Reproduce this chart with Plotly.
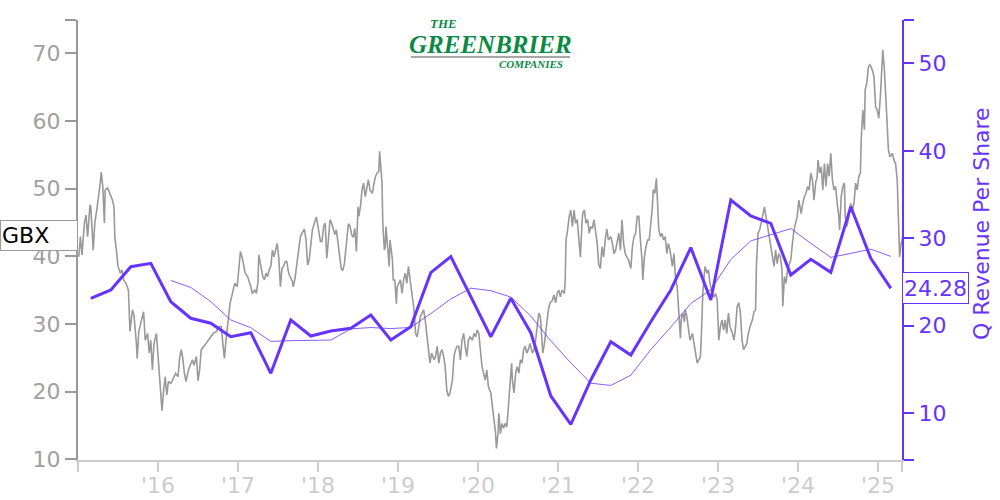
import plotly.graph_objects as go

# ---- GBX share price, decimal years ----
price_x = [
2015.01,2015.03,2015.05,2015.08,2015.10,2015.12,2015.15,2015.16,2015.19,2015.21,2015.24,2015.26,2015.28,2015.29,2015.31,2015.33,2015.34,2015.37,2015.40,2015.43,
2015.45,2015.46,2015.48,2015.50,2015.53,2015.55,2015.57,2015.60,2015.63,2015.64,2015.65,2015.68,2015.70,2015.73,2015.74,2015.76,2015.79,2015.82,2015.84,2015.87,
2015.89,2015.91,2015.93,2015.95,2015.98,2016.00,2016.03,2016.05,2016.07,2016.09,2016.11,2016.13,2016.16,2016.19,2016.22,2016.25,2016.27,2016.29,2016.31,2016.33,
2016.35,2016.38,2016.40,2016.43,2016.45,2016.48,2016.50,2016.52,2016.54,2016.57,2016.60,2016.63,2016.66,2016.69,2016.73,2016.76,2016.79,2016.82,2016.83,2016.85,
2016.88,2016.90,2016.92,2016.94,2016.96,2016.99,2017.01,2017.03,2017.05,2017.07,2017.09,2017.12,2017.14,2017.16,2017.18,2017.21,2017.23,2017.25,2017.26,2017.28,
2017.31,2017.33,2017.35,2017.37,2017.39,2017.41,2017.43,2017.45,2017.47,2017.49,2017.51,2017.53,2017.55,2017.57,2017.59,2017.61,2017.63,2017.65,2017.68,2017.69,
2017.71,2017.73,2017.76,2017.78,2017.80,2017.83,2017.85,2017.87,2017.89,2017.91,2017.93,2017.96,2017.98,2018.00,2018.03,2018.05,2018.07,2018.09,2018.11,2018.13,
2018.15,2018.17,2018.19,2018.21,2018.23,2018.25,2018.27,2018.29,2018.31,2018.33,2018.36,2018.38,2018.40,2018.42,2018.44,2018.46,2018.48,2018.50,2018.51,2018.53,
2018.55,2018.57,2018.59,2018.61,2018.63,2018.65,2018.68,2018.70,2018.72,2018.74,2018.76,2018.77,2018.79,2018.80,2018.81,2018.83,2018.84,2018.85,2018.87,2018.89,
2018.90,2018.93,2018.94,2018.96,2018.98,2018.99,2019.01,2019.03,2019.05,2019.07,2019.09,2019.11,2019.13,2019.15,2019.18,2019.20,2019.22,2019.24,2019.26,2019.28,
2019.30,2019.32,2019.34,2019.36,2019.38,2019.40,2019.42,2019.45,2019.47,2019.49,2019.51,2019.53,2019.55,2019.57,2019.59,2019.61,2019.63,2019.65,2019.68,2019.70,
2019.72,2019.74,2019.76,2019.78,2019.80,2019.82,2019.84,2019.86,2019.88,2019.90,2019.93,2019.95,2019.97,2019.99,2020.01,2020.03,2020.05,2020.07,2020.09,2020.11,
2020.13,2020.16,2020.18,2020.20,2020.22,2020.23,2020.25,2020.26,2020.28,2020.30,2020.32,2020.34,2020.36,2020.38,2020.40,2020.42,2020.43,2020.45,2020.47,2020.49,
2020.51,2020.53,2020.55,2020.57,2020.59,2020.61,2020.63,2020.65,2020.68,2020.70,2020.72,2020.74,2020.76,2020.78,2020.80,2020.81,2020.83,2020.85,2020.87,2020.88,
2020.90,2020.93,2020.95,2020.97,2020.99,2021.01,2021.03,2021.05,2021.08,2021.09,2021.10,2021.12,2021.14,2021.16,2021.18,2021.20,2021.22,2021.24,2021.26,2021.28,
2021.30,2021.31,2021.33,2021.35,2021.37,2021.39,2021.41,2021.43,2021.45,2021.47,2021.49,2021.51,2021.53,2021.55,2021.57,2021.59,2021.61,2021.63,2021.66,2021.68,
2021.70,2021.72,2021.74,2021.76,2021.78,2021.80,2021.82,2021.84,2021.86,2021.88,2021.91,2021.93,2021.95,2021.97,2021.99,2022.01,2022.03,2022.05,2022.06,2022.08,
2022.10,2022.12,2022.14,2022.16,2022.18,2022.19,2022.21,2022.23,2022.24,2022.26,2022.28,2022.30,2022.32,2022.34,2022.36,2022.38,2022.40,2022.43,2022.45,2022.47,
2022.49,2022.51,2022.53,2022.54,2022.56,2022.58,2022.59,2022.61,2022.63,2022.65,2022.68,2022.70,2022.72,2022.74,2022.76,2022.78,2022.79,2022.81,2022.83,2022.84,
2022.86,2022.88,2022.90,2022.93,2022.95,2022.97,2022.99,2023.01,2023.03,2023.05,2023.07,2023.09,2023.11,2023.13,2023.15,2023.18,2023.20,2023.22,2023.24,2023.26,
2023.28,2023.30,2023.32,2023.34,2023.36,2023.38,2023.40,2023.43,2023.45,2023.47,2023.48,2023.50,2023.52,2023.54,2023.56,2023.58,2023.60,2023.62,2023.64,2023.66,
2023.68,2023.70,2023.72,2023.74,2023.76,2023.78,2023.80,2023.81,2023.83,2023.85,2023.87,2023.89,2023.91,2023.93,2023.95,2023.97,2023.99,2024.01,2024.03,2024.04,
2024.06,2024.08,2024.10,2024.12,2024.14,2024.16,2024.18,2024.20,2024.22,2024.24,2024.25,2024.27,2024.29,2024.31,2024.33,2024.35,2024.37,2024.39,2024.41,2024.43,
2024.45,2024.47,2024.49,2024.51,2024.52,2024.54,2024.56,2024.58,2024.59,2024.61,2024.63,2024.66,2024.68,2024.70,2024.72,2024.74,2024.76,2024.78,2024.79,2024.81,
2024.83,2024.84,2024.86,2024.88,2024.90,2024.93,2024.95,2024.97,2024.99,2025.01,2025.03,2025.05,2025.06,2025.08,2025.10,2025.11,2025.13,2025.15,2025.18,2025.20,
2025.22,2025.24,2025.26,2025.27,2025.29,2025.31]
price_y = [
39.9,42.9,40.2,44.9,46.1,42.9,47.6,47.3,40.9,44.9,47.3,48.8,51.0,52.4,50.3,44.9,49.8,50.1,49.1,48.3,
47.3,42.9,40.9,38.5,37.5,38.0,36.5,36.0,35.0,31.1,28.9,32.1,31.3,27.1,24.9,28.9,30.6,31.8,27.6,28.6,
25.7,27.6,23.2,27.1,28.6,25.2,19.8,17.2,20.2,22.2,19.5,21.5,21.2,22.0,22.7,22.2,24.9,26.2,24.9,22.7,
21.5,23.2,23.7,24.7,23.9,25.2,21.6,23.2,26.2,26.6,27.1,27.6,28.1,28.6,28.9,29.6,29.6,26.7,24.9,27.6,
31.1,33.0,34.0,35.0,36.0,35.5,38.2,40.7,39.9,38.5,37.5,37.0,36.3,35.5,34.5,35.0,34.5,36.3,40.2,38.7,
37.0,36.5,37.5,37.0,38.0,38.5,40.9,39.9,40.9,41.9,39.7,35.5,38.2,38.5,39.2,39.2,37.7,37.0,36.3,35.5,
36.5,38.5,40.9,42.9,43.4,44.0,42.4,38.7,39.5,41.4,43.9,45.1,45.8,44.4,42.2,42.2,44.4,44.9,39.7,42.4,
45.4,44.9,43.9,43.2,43.9,41.7,39.7,38.2,37.9,38.9,42.4,44.8,44.5,43.2,42.8,44.1,40.7,47.3,45.9,47.3,
49.8,50.8,48.8,50.3,51.3,49.8,49.3,50.8,51.8,52.3,52.5,55.5,51.8,50.8,44.9,40.9,41.4,44.4,41.4,38.5,
42.4,39.5,36.5,36.5,33.0,35.5,36.0,36.5,34.5,36.5,37.5,36.0,38.5,36.5,34.0,32.1,28.6,28.1,29.6,31.1,
31.6,32.1,30.6,28.6,26.6,24.2,25.7,24.7,25.2,26.7,24.2,25.7,26.2,25.2,23.7,20.2,19.3,19.8,21.7,25.2,
26.2,26.7,26.7,24.7,27.6,28.6,26.7,25.2,27.6,28.1,27.6,28.6,28.1,29.1,28.6,25.7,23.7,22.7,21.7,23.2,
20.7,19.8,17.8,15.8,13.8,11.6,13.8,16.8,13.8,15.3,14.6,15.3,14.8,17.8,20.7,24.2,21.7,19.8,22.7,23.7,
22.7,24.7,24.2,26.2,26.7,25.7,26.2,27.1,25.7,26.2,27.6,29.6,31.6,31.1,28.1,25.7,27.1,29.6,31.1,32.1,
33.1,33.5,34.3,33.1,34.5,35.0,34.0,35.0,34.5,36.5,42.4,43.9,45.9,46.8,44.4,46.8,44.9,45.4,42.4,39.9,
44.9,46.4,46.8,44.9,45.4,43.4,44.4,44.1,45.4,43.9,41.9,38.7,38.2,41.4,39.9,42.4,44.0,42.4,42.9,41.9,
40.4,40.9,42.4,43.4,40.9,45.4,41.9,40.4,39.9,39.5,38.2,41.4,42.9,43.4,45.9,45.9,42.4,39.5,36.5,39.9,
41.4,42.4,42.4,44.9,47.3,49.8,49.3,51.5,49.3,43.9,42.9,43.4,42.4,42.9,40.4,41.9,40.9,38.5,40.4,36.5,
35.5,31.6,27.9,30.6,31.6,30.3,32.1,31.1,29.6,27.6,28.6,27.1,25.7,24.2,24.7,25.2,27.6,34.5,37.5,38.5,
37.5,38.0,36.0,34.5,34.0,34.5,33.5,27.6,29.6,30.6,29.1,30.6,28.6,31.6,29.6,28.6,27.6,29.6,32.6,33.1,
31.6,27.6,26.2,26.7,27.1,28.6,29.6,30.6,31.8,32.1,38.5,43.4,43.9,44.9,45.9,47.3,45.9,44.4,42.9,40.9,
39.5,38.5,40.9,38.9,40.4,39.9,38.0,32.6,37.0,36.0,38.0,38.9,39.5,41.9,43.9,44.9,45.9,48.3,46.8,46.3,
47.8,48.8,49.3,50.3,49.8,52.3,51.3,48.3,50.8,51.8,54.2,52.3,53.2,49.8,53.7,50.3,53.7,51.8,55.2,51.3,
49.8,50.3,47.8,45.9,43.9,48.8,50.3,50.8,45.9,44.4,45.4,47.8,46.8,47.8,50.8,49.8,51.8,52.3,57.2,61.6,
58.7,64.6,65.6,68.0,68.3,67.5,66.5,62.1,61.6,60.4,63.6,69.5,70.5,67.5,63.6,60.6,55.7,54.7,55.2,54.2,
53.7,51.3,43.9,39.9,41.9,43.0]

# ---- Quarterly revenue per share (thick line) ----
rev_x = [2015.16,2015.41,2015.66,2015.91,2016.16,2016.41,2016.66,2016.91,2017.16,2017.41,
         2017.66,2017.91,2018.16,2018.41,2018.66,2018.91,2019.16,2019.41,2019.66,2019.91,
         2020.16,2020.41,2020.66,2020.91,2021.16,2021.41,2021.66,2021.91,2022.16,2022.41,
         2022.66,2022.91,2023.16,2023.41,2023.66,2023.91,2024.16,2024.41,2024.66,2024.91,2025.16]
rev_y = [23.14,24.09,26.75,27.14,22.75,20.86,20.29,18.75,19.21,14.57,
         20.66,18.83,19.41,19.71,21.23,18.38,19.90,26.07,27.90,23.33,
         18.75,23.14,19.21,11.98,8.74,13.81,18.18,16.66,20.47,24.09,
         28.93,22.95,34.38,32.55,31.71,25.81,27.60,26.11,33.61,27.71,24.28]

# ---- Trailing 4-quarter average (thin line) ----
avg_x = rev_x[4:]
avg_y = [25.18,24.38,22.76,20.66,19.78,18.21,18.30,18.32,18.37,19.65,
         19.80,19.68,19.81,21.40,23.06,24.30,24.01,23.28,21.11,18.27,
         15.77,13.44,13.18,14.35,17.28,19.85,22.54,24.11,27.59,29.70,
         30.40,31.11,29.42,27.81,28.28,28.76,27.93]

year_ticks = [2015, 2016, 2017, 2018, 2019, 2020, 2021, 2022, 2023, 2024, 2025, 2025.3]
year_labels = ["", "'16", "'17", "'18", "'19", "'20", "'21", "'22", "'23", "'24", "'25", ""]
left_ticks = [10, 20, 30, 40, 50, 60, 70, 74.9]
left_labels = ["10", "20", "30", "40", "50", "60", "70", ""]
right_ticks = [4.66, 10, 20, 30, 40, 50, 54.95]
right_labels = ["", "10", "20", "30", "40", "50", ""]

PURPLE = "#6633ff"
GRAY = "#999999"
LIGHT = "#cccccc"
GREEN = "#0a8a45"
FONT = "DejaVu Sans"

fig = go.Figure()
fig.add_trace(go.Scatter(x=price_x, y=price_y, mode="lines",
                         line=dict(color=GRAY, width=1.6), yaxis="y", hoverinfo="skip"))
fig.add_trace(go.Scatter(x=avg_x, y=avg_y, mode="lines",
                         line=dict(color=PURPLE, width=0.8), yaxis="y2"))
fig.add_trace(go.Scatter(x=rev_x, y=rev_y, mode="lines",
                         line=dict(color=PURPLE, width=3), yaxis="y2"))

fig.update_layout(
    width=1000, height=500,
    margin=dict(l=78, r=98, t=20, b=40),
    paper_bgcolor="white", plot_bgcolor="white",
    showlegend=False,
    font=dict(family=FONT, size=22),
    xaxis=dict(range=[2015, 2025.3], tickvals=year_ticks, ticktext=year_labels,
               automargin=False, ticklabelstandoff=-5,
               showgrid=False, zeroline=False, showline=True, linecolor=LIGHT, linewidth=2,
               ticks="outside", ticklen=10, tickwidth=2, tickcolor=LIGHT,
               tickfont=dict(color=LIGHT, size=22, family=FONT)),
    yaxis=dict(range=[9.9, 74.9], tickvals=left_ticks, ticktext=left_labels,
               automargin=False,
               showgrid=False, zeroline=False, showline=True, linecolor=GRAY, linewidth=2,
               ticks="outside", ticklen=11, tickwidth=2, tickcolor=GRAY,
               tickfont=dict(color="#a0a0a0", size=22, family=FONT)),
    yaxis2=dict(range=[4.66, 54.95], tickvals=right_ticks, ticktext=right_labels,
                overlaying="y", side="right", automargin=False,
                showgrid=False, zeroline=False, showline=True, linecolor=PURPLE, linewidth=2,
                ticks="outside", ticklen=10, tickwidth=2, tickcolor=PURPLE,
                tickfont=dict(color=PURPLE, size=22, family=FONT)),
)

# axis title (right)
fig.add_annotation(text="Q Revenue Per Share", xref="paper", yref="paper",
                   x=(981 - 78) / 824, y=(460 - 224) / 440, textangle=-90,
                   xanchor="center", yanchor="middle",
                   showarrow=False, font=dict(color=PURPLE, size=22, family=FONT))

# last price label
fig.add_annotation(text="GBX", xref="paper", yref="y", x=-78 / 824, y=43.0,
                   xanchor="left", yanchor="middle", align="left", width=74, height=27,
                   showarrow=False, bgcolor="white", bordercolor=GRAY, borderwidth=1, borderpad=1,
                   font=dict(color="black", size=22, family=FONT))

# last revenue label
fig.add_annotation(text="24.28", xref="paper", yref="y2", x=1.0005, y=24.28,
                   xanchor="left", yanchor="middle", align="left", width=63, height=28,
                   showarrow=False, bgcolor="white", bordercolor=PURPLE, borderwidth=1, borderpad=1,
                   font=dict(color=PURPLE, size=22, family=FONT))

# logo (text version)
fig.add_annotation(text="<b><i>THE</i></b>", xref="paper", yref="paper",
                   x=(443 - 78) / 824, y=(460 - 24) / 440, xanchor="center", yanchor="middle",
                   showarrow=False, font=dict(color=GREEN, size=13, family="Liberation Serif"))
fig.add_annotation(text="<b><i>GREENBRIER</i></b>", xref="paper", yref="paper",
                   x=(490 - 78) / 824, y=(460 - 45) / 440, xanchor="center", yanchor="middle",
                   showarrow=False, font=dict(color=GREEN, size=25, family="Liberation Serif"))
fig.add_annotation(text="<b><i>COMPANIES</i></b>", xref="paper", yref="paper",
                   x=(531 - 78) / 824, y=(460 - 64) / 440, xanchor="center", yanchor="middle",
                   showarrow=False, font=dict(color=GREEN, size=11, family="Liberation Serif"))
fig.add_shape(type="line", xref="paper", yref="paper",
              x0=(411 - 78) / 824, x1=(570 - 78) / 824,
              y0=(460 - 57) / 440, y1=(460 - 57) / 440,
              line=dict(color="#888888", width=1.5))

fig.write_html("out.html", config={"displayModeBar": False},
               post_script="document.body.style.margin='0';document.body.style.overflow='hidden';")
